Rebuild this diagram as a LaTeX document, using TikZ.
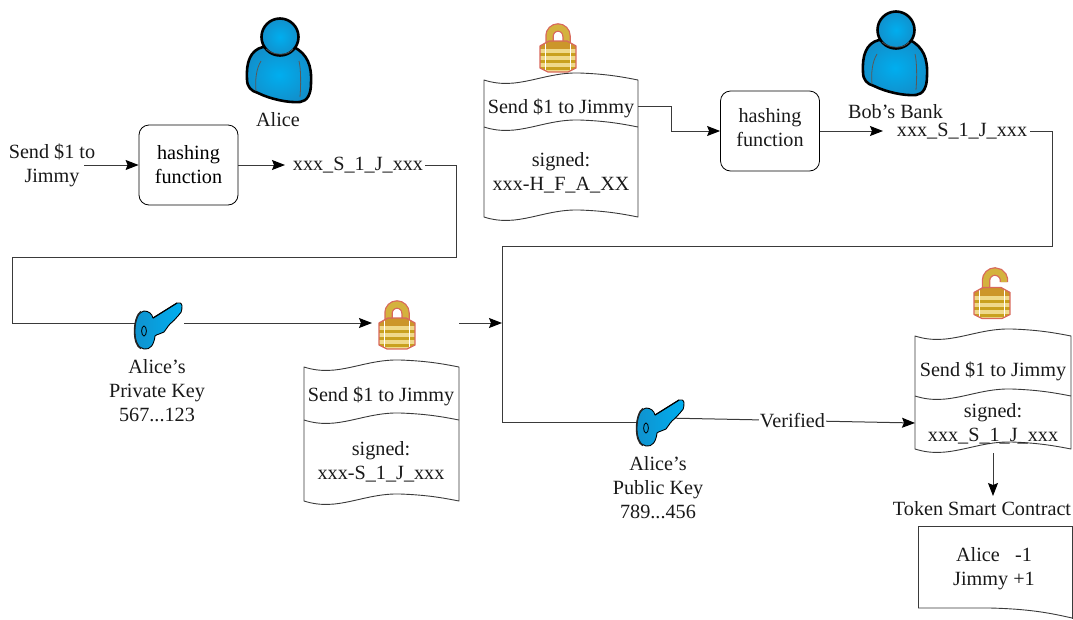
\documentclass[tikz,border=0pt]{standalone}
\usepackage{fontspec}
\setmainfont{Liberation Serif}
\usetikzlibrary{arrows.meta}
\definecolor{linegray}{HTML}{3A3A3A}
\definecolor{blueA}{HTML}{00AEEF}
\definecolor{blueB}{HTML}{1190CC}
\definecolor{lockred}{HTML}{D8695C}
\definecolor{gold}{HTML}{C9A11E}
\definecolor{goldL}{HTML}{EFD98A}
\tikzset{
  x=1pt,y=-1pt,
  lbl/.style={inner sep=0pt,align=center,font=\fontsize{20.2}{24}\selectfont,text=black!90},
  hashbox/.style={draw=black,line width=.8pt,rounded corners=10pt,minimum width=99pt,minimum height=80pt,inner sep=0pt,align=center,font=\fontsize{20.2}{24}\selectfont},
  conn/.style={draw=linegray,line width=1pt},
  arr/.style={conn,-{Stealth[length=13pt,width=10pt,inset=2pt,black]}},
  docline/.style={draw=linegray,line width=.9pt},
  person/.pic={
    \shade[draw=black,line width=2.6pt,line join=round,inner color=blueA,outer color=blueB]
      (-17,10) .. controls (-30,13) and (-34,26) .. (-33,42)
      .. controls (-33,50) and (-29,54) .. (-22,56)
      .. controls (-10,62) and (8,66) .. (20,65)
      .. controls (27,64) and (31,58) .. (31,46)
      .. controls (32,28) and (27,17) .. (14,10) -- cycle;
    \draw[line width=.8pt,black!65] (-19,24) .. controls (-24,32) and (-25,44) .. (-24,54);
    \draw[line width=.8pt,black!65] (19,24) .. controls (21,32) and (21,48) .. (20,60);
    \shade[draw=black,line width=2.6pt,inner color=blueA,outer color=blueB] (0,0) circle (18.5);
    \draw[line width=.8pt,black!70] (-14,12) .. controls (-6,19) and (8,19) .. (13,12);
  },
  keypic/.pic={
    \shade[draw=black,line width=.9pt,line join=round,left color=blueB,right color=blueA]
      (9,-12) -- (33,-27) .. controls (35,-28) and (38,-27) .. (38,-24)
      .. controls (38,-19) and (37,-16) .. (34,-14)
      .. controls (31,-11) and (29,-8) .. (26,-6)
      .. controls (23,-3) and (22,0) .. (20,2)
      .. controls (17,4) and (13,4) .. (11,6)
      .. controls (10,15) and (6,20) .. (0,19)
      .. controls (-13,18) and (-12,-18) .. (0,-19)
      .. controls (5,-19) and (8,-16) .. (9,-12) -- cycle;
    \draw[line width=1.6pt,black!85] (-3,18.5) .. controls (-12,15) and (-11,-13) .. (-3,-18.5);
    \draw[line width=.8pt,black] (0,1) ellipse (2.4 and 5);
    \draw[line width=1.1pt,black] (9,-12) -- (33,-27);
  },
  lockbody/.pic={
    \begin{scope}
      \clip (-18,-10) -- (-9,-15) -- (9,-15) -- (18,-10) -- (18,12) -- (10,16) -- (-10,16) -- (-18,12) -- cycle;
      \fill[goldL] (-18,-15) rectangle (18,16);
      \foreach \yy in {-3,4,11} \fill[gold] (-18,\yy) rectangle (18,\yy+3);
      \fill[gold!80!lockred] (-18,-15) rectangle (18,-7);
      \draw[white,line width=.9pt] (-12.5,-15) -- (-12.5,16) (12.5,-15) -- (12.5,16);
    \end{scope}
    \draw[lockred,line width=1.3pt,line join=round] (-18,-10) -- (-9,-15) -- (9,-15) -- (18,-10) -- (18,12) -- (10,16) -- (-10,16) -- (-18,12) -- cycle;
  },
  lockclosed/.pic={
    \draw[lockred,line width=8.5pt] (-8.5,-12) -- (-8.5,-20) arc[start angle=180,end angle=360,radius=8.5] -- (8.5,-12);
    \draw[gold!70!goldL,line width=6pt] (-8.5,-12) -- (-8.5,-20) arc[start angle=180,end angle=360,radius=8.5] -- (8.5,-12);
    \pic {lockbody};
  },
  lockopen/.pic={
    \draw[lockred,line width=8.5pt] (-6,-12) -- (-6,-22) arc[start angle=180,end angle=370,radius=9];
    \draw[gold!70!goldL,line width=6pt] (-6,-12) -- (-6,-22) arc[start angle=180,end angle=370,radius=9];
    \pic {lockbody};
  }
}
% #1 x0, #2 width, #3 y
\newcommand{\wavepart}[3]{(#1,#3) .. controls ({#1+.22*#2},{#3+11}) and ({#1+.38*#2},{#3-8}) .. ({#1+.62*#2},{#3-7}) .. controls ({#1+.8*#2},{#3-6}) and ({#1+.9*#2},{#3-3}) .. ({#1+#2},{#3})}
% #1 name #2 x0 #3 width #4 top #5 mid #6 bottom
\newcommand{\wavedoc}[6]{%
  \draw[docline,line join=round] \wavepart{#2}{#3}{#4} -- ({#2+#3},{#6})
     .. controls ({#2+.9*#3},{#6-3}) and ({#2+.8*#3},{#6-6}) .. ({#2+.62*#3},{#6-7})
     .. controls ({#2+.38*#3},{#6-8}) and ({#2+.22*#3},{#6+11}) .. (#2,#6) -- cycle;
  \draw[docline] \wavepart{#2}{#3}{#5};
  \coordinate (#1L) at (#2,{(#4+#6)/2});
  \coordinate (#1R) at ({#2+#3},{(#4+#6)/2});
}
\begin{document}
\begin{tikzpicture}
\useasboundingbox (0,0) rectangle (1073,619);
% people
\pic at (280,37) {person};
\pic at (896,30) {person};
\node[lbl] (alice) at (278,120) {Alice};
\node[lbl] (bob) at (895.5,112) {Bob’s Bank};
% first row
\node[lbl] (msgA) at (52,165) {Send \$1 to\\Jimmy};
\node[hashbox] (hashA) at (188.5,165) {hashing\\function};
\node[lbl] (digA) at (358,165) {xxx\_S\_1\_J\_xxx};
\coordinate (msgAout) at (84,165);
\draw[arr] (msgAout) -- (hashA.west);
\draw[arr] (hashA.east) -- (285,165) coordinate (digAin);
% locks
\pic at (397,333) {lockclosed};
\pic at (558,56) {lockclosed};
\pic at (992,302.5) {lockopen};
% document 1
\wavedoc{docA}{304}{155}{367}{420}{501}
\node[lbl] (docAt) at (381,396) {Send \$1 to Jimmy};
\node[lbl] (docAs) at (381,461.5) {signed:\\xxx-S\_1\_J\_xxx};
% document 2
\wavedoc{docB}{484}{154}{80}{127}{217}
\node[lbl] (docBt) at (561,108) {Send \$1 to Jimmy};
\node[lbl] (docBs) at (561,173) {signed:\\xxx-H\_F\_A\_XX};
% hash 2
\node[hashbox] (hashB) at (770,131) {};
\node[lbl] (hashBt) at (770,128) {hashing\\function};
\node[lbl] (digB) at (962,131) {xxx\_S\_1\_J\_xxx};
% document 3
\wavedoc{docC}{915}{156}{336}{396}{449}
\node[lbl] (docCt) at (993,371) {Send \$1 to Jimmy};
\node[lbl] (docCs) at (993,424) {signed:\\xxx\_S\_1\_J\_xxx};
% contract
\node[lbl] (tsc) at (982,509) {Token Smart Contract};
\node[lbl] (ledger) at (994,569) {Alice\ \ \ -1\\Jimmy +1};
\draw[docline] (918,608) -- (918,526) -- (1072,526) -- (1072,619);
\draw[docline] (918,608) -- (990,608) .. controls (1030,609) and (1050,613) .. (1072,618);
% connectors
\coordinate (keyAin) at (135,323);
\coordinate (keyAout) at (184,323);
\coordinate (lockAin) at (372,323);
\coordinate (relayA) at (459,323);
\coordinate (join) at (502,323);
\coordinate (keyBin) at (640,422);
\coordinate (keyBout) at (665,418);
\draw[conn] (425,165) coordinate (digAout) -- (456,165) -- (456,257) -- (12,257) -- (12,323) -- (keyAin);
\draw[arr] (keyAout) -- (lockAin);
\draw[arr] (relayA) -- (join);
\draw[arr] (638,106) coordinate (docBout) -- (671,106) -- (671,131) -- (hashB.west);
\draw[arr] (hashB.east) -- (883,131) coordinate (digBin);
\draw[conn] (1030,131) coordinate (digBout) -- (1052,131) -- (1052,246) -- (502,246) -- (502,422) -- (keyBin);
\draw[arr] (keyBout) -- node[pos=.51,lbl,fill=white,inner xsep=1pt,inner ysep=1pt] (verified) {Verified} (915,423) coordinate (docCin);
\draw[arr] (993,453) coordinate (docCout) -- (993,496) coordinate (tscin);
% keys
\pic at (144,330) {keypic};
\pic at (646,427) {keypic};
\node[lbl] (privk) at (157,391) {Alice’s\\Private Key\\567...123};
\node[lbl] (pubk) at (658,488) {Alice’s\\Public Key\\789...456};
\end{tikzpicture}
\end{document}
